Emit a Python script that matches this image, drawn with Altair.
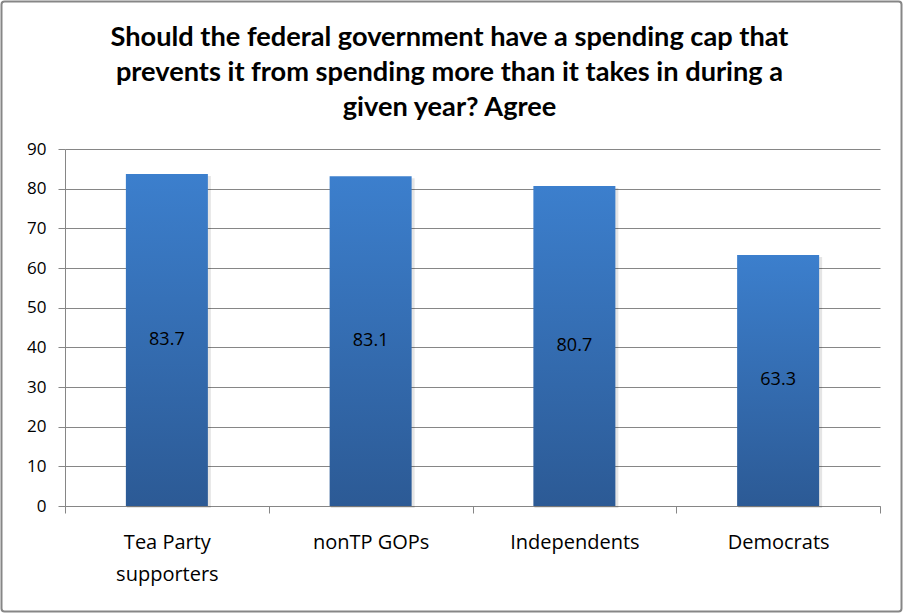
import altair as alt
import pandas as pd

# Survey results: share who agree with a federal spending cap
groups = ["Tea Party supporters", "nonTP GOPs", "Independents", "Democrats"]
agree = [83.7, 83.1, 80.7, 63.3]
y_ticks = [0, 10, 20, 30, 40, 50, 60, 70, 80, 90]

title_lines = [
    "Should the federal government have a spending cap that",
    "prevents it from spending more than it takes in during a",
    "given year? Agree",
]

df = pd.DataFrame({"group": groups, "agree": agree})

GRAY = "#868686"
LABEL_FONT = "Open Sans"
TITLE_FONT = "Lato"

x_enc = alt.X(
    "group:N",
    sort=groups,
    scale=alt.Scale(paddingInner=0, paddingOuter=0),
    axis=alt.Axis(
        title=None,
        labelAngle=0,
        tickBand="extent",
        tickSize=7,
        tickColor=GRAY,
        domainColor=GRAY,
        labelFont=LABEL_FONT,
        labelFontSize=20,
        labelColor="black",
        labelPadding=19,
        labelLineHeight=32,
        labelBaseline="top",
        labelExpr="datum.value == 'Tea Party supporters' ? ['Tea Party', 'supporters'] : datum.value",
    ),
)

y_scale = alt.Scale(domain=[0, 90], nice=False)
y_axis = alt.Axis(
    title=None,
    values=y_ticks,
    tickSize=7,
    tickColor=GRAY,
    domainColor=GRAY,
    gridColor=GRAY,
    gridWidth=1,
    labelFont=LABEL_FONT,
    labelFontSize=17,
    labelColor="black",
    labelPadding=12,
)

shadow = alt.Chart(df).mark_bar(
    size=84, color="#000000", opacity=0.10, xOffset=2, yOffset=2
).encode(x=x_enc, y=alt.Y("agree:Q", scale=y_scale, axis=y_axis))

bars = alt.Chart(df).mark_bar(
    size=82,
    color=alt.Gradient(
        gradient="linear",
        stops=[
            alt.GradientStop(color="#3C7FCD", offset=0),
            alt.GradientStop(color="#2C5A95", offset=1),
        ],
        x1=0, x2=0, y1=0, y2=1,
    ),
).encode(x=x_enc, y=alt.Y("agree:Q", scale=y_scale, axis=y_axis))

labels = alt.Chart(df).transform_calculate(
    mid="datum.agree / 2"
).mark_text(
    font=LABEL_FONT, fontSize=18, color="black", baseline="middle"
).encode(
    x=x_enc,
    y=alt.Y("mid:Q", scale=y_scale, axis=y_axis),
    text=alt.Text("agree:Q", format=".1f"),
)

# Outer frame around the whole chart
frame = alt.Chart(alt.Data(values=[{}])).mark_rect(
    fill=None, stroke=GRAY, strokeWidth=2, cornerRadius=3, clip=False
).encode(
    x=alt.value(-63.5), x2=alt.value(836.5),
    y=alt.value(-147.5), y2=alt.value(462.5),
)

chart = alt.layer(shadow, bars, labels, frame).properties(
    width=815,
    height=357,
    padding={"left": 65, "top": 149, "right": 23, "bottom": 107},
    autosize=alt.AutoSizeParams(type="none"),
    background="white",
    title=alt.TitleParams(
        text=title_lines,
        font=TITLE_FONT,
        fontSize=27.2,
        fontWeight="bold",
        color="black",
        anchor="middle",
        dx=-23,
        offset=-122,
        lineHeight=35,
    ),
).configure_view(stroke=None)

chart.save("out.html", embed_options={"renderer": "svg", "actions": False})
